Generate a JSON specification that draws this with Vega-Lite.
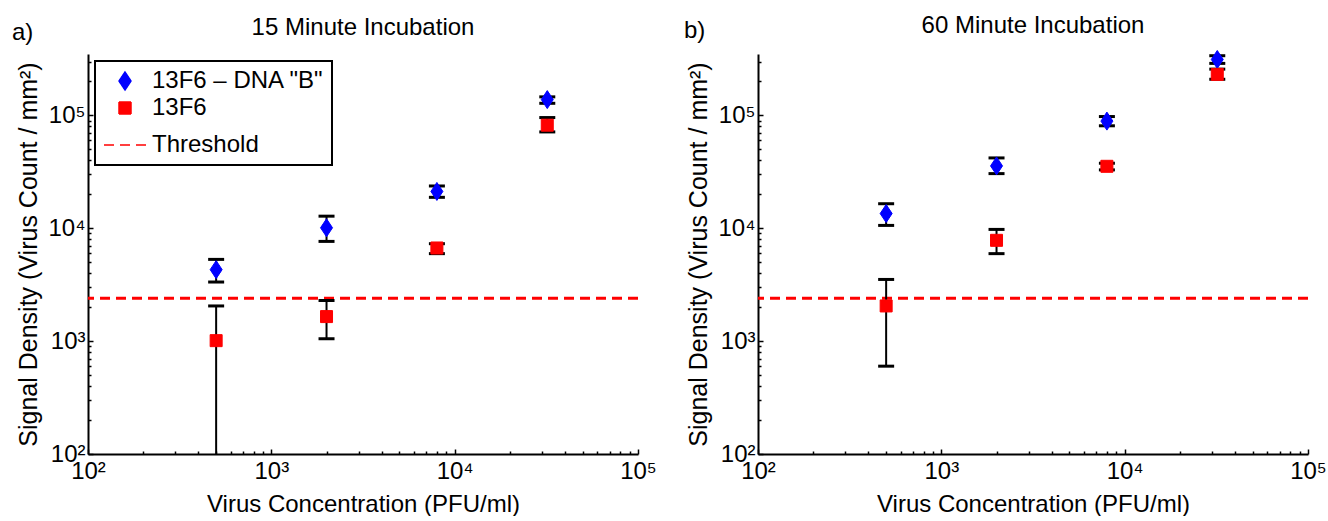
{
  "$schema": "https://vega.github.io/schema/vega-lite/v6.json",
  "background": "white",
  "padding": {"left": 11, "top": 14, "right": 0, "bottom": 0},
  "config": {
    "view": {"stroke": null},
    "font": "Liberation Sans",
    "axis": {
      "grid": false,
      "domainColor": "black",
      "domainWidth": 2,
      "tickColor": "black",
      "tickWidth": 1.5,
      "labelFont": "Liberation Sans",
      "labelFontSize": 24,
      "labelColor": "black",
      "titleFont": "Liberation Sans",
      "titleFontSize": 24,
      "titleFontWeight": "normal",
      "titleColor": "black",
      "labelOverlap": false,
      "labelFlush": false,
      "labelBound": false
    },
    "legend": {
      "strokeColor": "black",
      "strokeWidth": 2,
      "fillColor": "white",
      "padding": 8,
      "labelFont": "Liberation Sans",
      "labelFontSize": 24,
      "labelColor": "black",
      "labelLimit": 400,
      "symbolStrokeWidth": 1.5,
      "rowPadding": 3,
      "labelOffset": 5,
      "offset": 7
    },
    "title": {"font": "Liberation Sans", "fontSize": 24, "fontWeight": "normal", "color": "black"}
  },
  "datasets": {
    "pts": [
      {"panel": "a", "series": "13F6 – DNA \"B\"", "x": 500, "y": 4300, "lo": 3340, "hi": 5300},
      {"panel": "a", "series": "13F6", "x": 500, "y": 1010, "lo": 10, "hi": 2050},
      {"panel": "a", "series": "13F6 – DNA \"B\"", "x": 2000, "y": 10100, "lo": 7650, "hi": 12800},
      {"panel": "a", "series": "13F6", "x": 2000, "y": 1650, "lo": 1050, "hi": 2290},
      {"panel": "a", "series": "13F6 – DNA \"B\"", "x": 8000, "y": 21200, "lo": 18800, "hi": 23700},
      {"panel": "a", "series": "13F6", "x": 8000, "y": 6690, "lo": 5960, "hi": 7300},
      {"panel": "a", "series": "13F6 – DNA \"B\"", "x": 32000, "y": 138000, "lo": 128000, "hi": 146000},
      {"panel": "a", "series": "13F6", "x": 32000, "y": 81900, "lo": 71400, "hi": 95700},
      {"panel": "b", "series": "13F6 – DNA \"B\"", "x": 500, "y": 13500, "lo": 10600, "hi": 16500},
      {"panel": "b", "series": "13F6", "x": 500, "y": 2050, "lo": 600, "hi": 3520},
      {"panel": "b", "series": "13F6 – DNA \"B\"", "x": 2000, "y": 35700, "lo": 30500, "hi": 42000},
      {"panel": "b", "series": "13F6", "x": 2000, "y": 7820, "lo": 5960, "hi": 9770},
      {"panel": "b", "series": "13F6 – DNA \"B\"", "x": 8000, "y": 89000, "lo": 80900, "hi": 97700},
      {"panel": "b", "series": "13F6", "x": 8000, "y": 35400, "lo": 32900, "hi": 37700},
      {"panel": "b", "series": "13F6 – DNA \"B\"", "x": 32000, "y": 313000, "lo": 289000, "hi": 338000},
      {"panel": "b", "series": "13F6", "x": 32000, "y": 231000, "lo": 209000, "hi": 257000}
    ],
    "thr": [
      {"series": "Threshold", "y": 2400}
    ]
  },
  "resolve": {
    "scale": {"fill": "independent", "stroke": "independent", "shape": "independent", "size": "independent", "strokeDash": "independent"},
    "legend": {"fill": "independent", "stroke": "independent", "shape": "independent", "size": "independent", "strokeDash": "independent"}
  },
  "spacing": 26,
  "hconcat": [
    {
      "title": {"text": "a)", "anchor": "start", "frame": "bounds", "offset": 0, "dy": 29, "dx": -5},
      "resolve": {
        "scale": {"fill": "independent", "stroke": "independent", "shape": "independent", "size": "independent", "strokeDash": "independent"},
        "legend": {"fill": "independent", "stroke": "independent", "shape": "independent", "size": "independent", "strokeDash": "independent"}
      },
      "vconcat": [
        {
          "title": {"text": "15 Minute Incubation", "offset": 10},
          "width": 550,
          "height": 400,
          "data": {"name": "pts"},
          "transform": [{"filter": "datum.panel == 'a'"}],
          "encoding": {
            "x": {
              "field": "x", "type": "quantitative",
              "scale": {"type": "log", "domain": [100, 100000], "nice": false},
              "axis": {
                "title": "Virus Concentration (PFU/ml)",
                "values": [100, 200, 300, 400, 500, 600, 700, 800, 900, 1000, 2000, 3000, 4000, 5000, 6000, 7000, 8000, 9000, 10000, 20000, 30000, 40000, 50000, 60000, 70000, 80000, 90000, 100000],
                "labelExpr": "abs(log(datum.value)/LN10 - round(log(datum.value)/LN10)) < 0.001 ? '10' + ['⁰','¹','²','³','⁴','⁵','⁶'][round(log(datum.value)/LN10)] : ''",
                "tickSize": {"condition": {"test": "abs(log(datum.value)/LN10 - round(log(datum.value)/LN10)) < 0.001", "value": -5}, "value": -3},
                "labelPadding": 10,
                "titlePadding": 7
              }
            },
            "y": {
              "field": "y", "type": "quantitative",
              "scale": {"type": "log", "domain": [100, 350000], "nice": false},
              "axis": {
                "title": "Signal Density (Virus Count / mm²)",
                "values": [100, 200, 300, 400, 500, 600, 700, 800, 900, 1000, 2000, 3000, 4000, 5000, 6000, 7000, 8000, 9000, 10000, 20000, 30000, 40000, 50000, 60000, 70000, 80000, 90000, 100000, 200000, 300000],
                "labelExpr": "abs(log(datum.value)/LN10 - round(log(datum.value)/LN10)) < 0.001 ? '10' + ['⁰','¹','²','³','⁴','⁵','⁶'][round(log(datum.value)/LN10)] : ''",
                "tickSize": {"condition": {"test": "abs(log(datum.value)/LN10 - round(log(datum.value)/LN10)) < 0.001", "value": -5}, "value": -3},
                "labelPadding": 8,
                "titlePadding": 6,
                "titleFontSize": 25
              }
            }
          },
          "layer": [
            {
              "data": {"name": "thr"},
              "mark": {"type": "rule", "strokeWidth": 3},
              "encoding": {
                "x": null,
                "y": {"field": "y", "type": "quantitative"},
                "stroke": {
                  "field": "series", "type": "nominal", "title": null,
                  "scale": {"domain": ["13F6 – DNA \"B\"", "13F6", "Threshold"], "range": ["#0000ff", "#ff0000", "#ff0000"]},
                  "legend": {"orient": "top-left"}
                },
                "strokeDash": {
                  "field": "series", "type": "nominal", "title": null,
                  "scale": {"domain": ["13F6 – DNA \"B\"", "13F6", "Threshold"], "range": [[1, 0], [1, 0], [10, 6]]},
                  "legend": {"orient": "top-left"}
                }
              }
            },
            {
              "mark": {"type": "rule", "color": "black", "strokeWidth": 2, "clip": true},
              "encoding": {
                "y": {"field": "lo", "type": "quantitative"},
                "y2": {"field": "hi"}
              }
            },
            {
              "mark": {"type": "tick", "orient": "horizontal", "color": "black", "size": 16, "thickness": 3, "clip": true, "opacity": 1},
              "encoding": {"y": {"field": "lo", "type": "quantitative"}}
            },
            {
              "mark": {"type": "tick", "orient": "horizontal", "color": "black", "size": 16, "thickness": 3, "clip": true, "opacity": 1},
              "encoding": {"y": {"field": "hi", "type": "quantitative"}}
            },
            {
              "mark": {"type": "point", "filled": true, "opacity": 1, "strokeWidth": 1},
              "encoding": {
                "fill": {
                  "field": "series", "type": "nominal", "title": null,
                  "scale": {"domain": ["13F6 – DNA \"B\"", "13F6", "Threshold"], "range": ["#0000ff", "#ff0000", "transparent"]},
                  "legend": {"orient": "top-left"}
                },
                "stroke": {
                  "field": "series", "type": "nominal", "title": null,
                  "scale": {"domain": ["13F6 – DNA \"B\"", "13F6", "Threshold"], "range": ["#0000ff", "#ff0000", "#ff0000"]},
                  "legend": {"orient": "top-left"}
                },
                "shape": {
                  "field": "series", "type": "nominal", "title": null,
                  "scale": {"domain": ["13F6 – DNA \"B\"", "13F6", "Threshold"], "range": ["M0,-1L0.667,0L0,1L-0.667,0Z", "square", "stroke"]},
                  "legend": {"orient": "top-left"}
                },
                "size": {
                  "field": "series", "type": "nominal", "title": null,
                  "scale": {"type": "ordinal", "domain": ["13F6 – DNA \"B\"", "13F6", "Threshold"], "range": [324, 144, 1764]},
                  "legend": {"orient": "top-left"}
                }
              }
            }
          ]
        }
      ]
    },
    {
      "title": {"text": "b)", "anchor": "start", "frame": "bounds", "offset": 0, "dy": 29, "dx": -3},
      "resolve": {
        "scale": {"fill": "independent", "stroke": "independent", "shape": "independent", "size": "independent", "strokeDash": "independent"},
        "legend": {"fill": "independent", "stroke": "independent", "shape": "independent", "size": "independent", "strokeDash": "independent"}
      },
      "vconcat": [
        {
          "title": {"text": "60 Minute Incubation", "offset": 10},
          "width": 550,
          "height": 400,
          "data": {"name": "pts"},
          "transform": [{"filter": "datum.panel == 'b'"}],
          "encoding": {
            "x": {
              "field": "x", "type": "quantitative",
              "scale": {"type": "log", "domain": [100, 100000], "nice": false},
              "axis": {
                "title": "Virus Concentration (PFU/ml)",
                "values": [100, 200, 300, 400, 500, 600, 700, 800, 900, 1000, 2000, 3000, 4000, 5000, 6000, 7000, 8000, 9000, 10000, 20000, 30000, 40000, 50000, 60000, 70000, 80000, 90000, 100000],
                "labelExpr": "abs(log(datum.value)/LN10 - round(log(datum.value)/LN10)) < 0.001 ? '10' + ['⁰','¹','²','³','⁴','⁵','⁶'][round(log(datum.value)/LN10)] : ''",
                "tickSize": {"condition": {"test": "abs(log(datum.value)/LN10 - round(log(datum.value)/LN10)) < 0.001", "value": -5}, "value": -3},
                "labelPadding": 10,
                "titlePadding": 7
              }
            },
            "y": {
              "field": "y", "type": "quantitative",
              "scale": {"type": "log", "domain": [100, 350000], "nice": false},
              "axis": {
                "title": "Signal Density (Virus Count / mm²)",
                "values": [100, 200, 300, 400, 500, 600, 700, 800, 900, 1000, 2000, 3000, 4000, 5000, 6000, 7000, 8000, 9000, 10000, 20000, 30000, 40000, 50000, 60000, 70000, 80000, 90000, 100000, 200000, 300000],
                "labelExpr": "abs(log(datum.value)/LN10 - round(log(datum.value)/LN10)) < 0.001 ? '10' + ['⁰','¹','²','³','⁴','⁵','⁶'][round(log(datum.value)/LN10)] : ''",
                "tickSize": {"condition": {"test": "abs(log(datum.value)/LN10 - round(log(datum.value)/LN10)) < 0.001", "value": -5}, "value": -3},
                "labelPadding": 8,
                "titlePadding": 6,
                "titleFontSize": 25
              }
            }
          },
          "layer": [
            {
              "data": {"name": "thr"},
              "mark": {"type": "rule", "strokeWidth": 3},
              "encoding": {
                "x": null,
                "y": {"field": "y", "type": "quantitative"},
                "stroke": {
                  "field": "series", "type": "nominal",
                  "scale": {"domain": ["13F6 – DNA \"B\"", "13F6", "Threshold"], "range": ["#0000ff", "#ff0000", "#ff0000"]},
                  "legend": null
                },
                "strokeDash": {
                  "field": "series", "type": "nominal",
                  "scale": {"domain": ["13F6 – DNA \"B\"", "13F6", "Threshold"], "range": [[1, 0], [1, 0], [10, 6]]},
                  "legend": null
                }
              }
            },
            {
              "mark": {"type": "rule", "color": "black", "strokeWidth": 2, "clip": true},
              "encoding": {
                "y": {"field": "lo", "type": "quantitative"},
                "y2": {"field": "hi"}
              }
            },
            {
              "mark": {"type": "tick", "orient": "horizontal", "color": "black", "size": 16, "thickness": 3, "clip": true, "opacity": 1},
              "encoding": {"y": {"field": "lo", "type": "quantitative"}}
            },
            {
              "mark": {"type": "tick", "orient": "horizontal", "color": "black", "size": 16, "thickness": 3, "clip": true, "opacity": 1},
              "encoding": {"y": {"field": "hi", "type": "quantitative"}}
            },
            {
              "mark": {"type": "point", "filled": true, "opacity": 1, "strokeWidth": 1},
              "encoding": {
                "fill": {
                  "field": "series", "type": "nominal",
                  "scale": {"domain": ["13F6 – DNA \"B\"", "13F6", "Threshold"], "range": ["#0000ff", "#ff0000", "transparent"]},
                  "legend": null
                },
                "stroke": {
                  "field": "series", "type": "nominal",
                  "scale": {"domain": ["13F6 – DNA \"B\"", "13F6", "Threshold"], "range": ["#0000ff", "#ff0000", "#ff0000"]},
                  "legend": null
                },
                "shape": {
                  "field": "series", "type": "nominal",
                  "scale": {"domain": ["13F6 – DNA \"B\"", "13F6", "Threshold"], "range": ["M0,-1L0.667,0L0,1L-0.667,0Z", "square", "stroke"]},
                  "legend": null
                },
                "size": {
                  "field": "series", "type": "nominal",
                  "scale": {"type": "ordinal", "domain": ["13F6 – DNA \"B\"", "13F6", "Threshold"], "range": [324, 144, 1764]},
                  "legend": null
                }
              }
            }
          ]
        }
      ]
    }
  ]
}
